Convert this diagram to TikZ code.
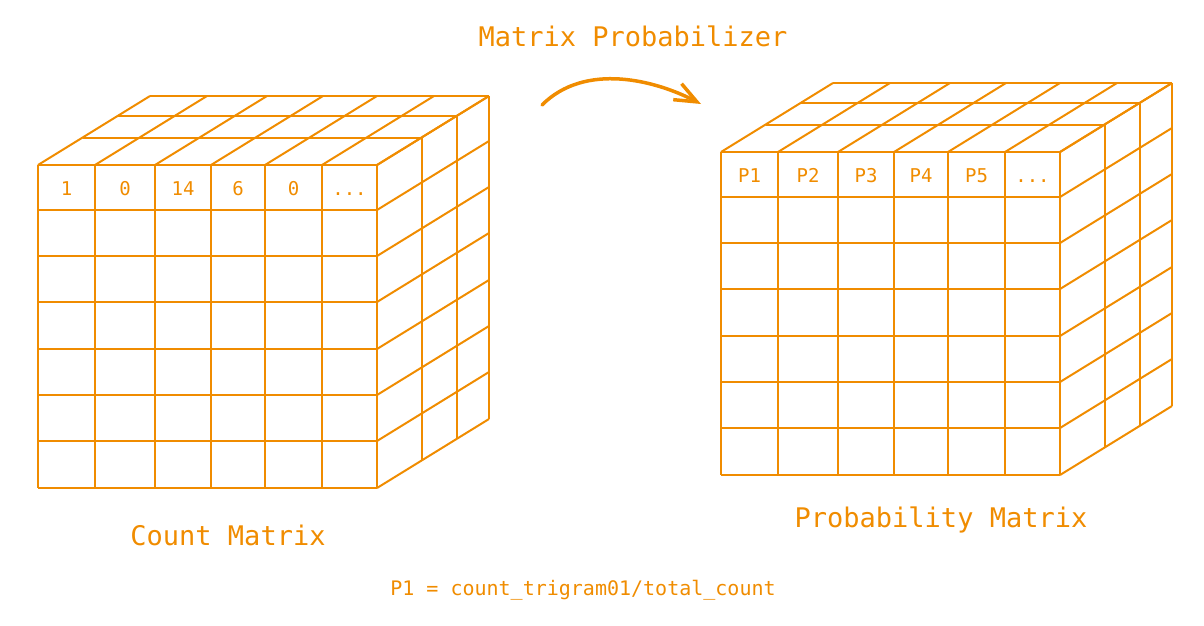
\documentclass[tikz,border=0pt]{standalone}
\usepackage{fontspec}
\setmonofont{DejaVu Sans Mono}
\usetikzlibrary{arrows.meta}
\definecolor{sketchorange}{HTML}{F08C00}
\newcommand{\celldots}{...}

\begin{document}
\begin{tikzpicture}[x=1pt, y=-1pt, line join=round,
    grid/.style={draw=sketchorange, line width=2pt},
    cell/.style={text=sketchorange, anchor=base, font=\ttfamily\fontsize{19}{21}\selectfont},
    caption/.style={text=sketchorange, font=\ttfamily\fontsize{27}{30}\selectfont},
    flow/.style={draw=sketchorange, line width=3.5pt, line cap=round, -{Straight Barb[length=22pt, width=18pt]}}]
\useasboundingbox (0,0) rectangle (1204,626);
\foreach \cx/\cy in {38/165, 721/152}{
    \begin{scope}[shift={(\cx,\cy)}]
        \foreach \x in {0,57,117,173,227,284,339}{
            \draw[grid] (\x,0) -- (\x,323);
            \draw[grid] (\x,0) -- (\x+112,-69);
        }
        \foreach \y in {0,45,91,137,184,230,276,323}{
            \draw[grid] (0,\y) -- (339,\y);
            \draw[grid] (339,\y) -- (451,\y-69);
        }
        \foreach \dx/\dy in {45/-27, 80/-49, 112/-69}{
            \draw[grid] (\dx,\dy) -- (339+\dx,\dy);
            \draw[grid] (339+\dx,\dy) -- (339+\dx,323+\dy);
        }
    \end{scope}
}
\foreach \lbl/\x [count=\i] in {1/28.5, 0/87, 14/145, 6/200, 0/255.5, \celldots/311.5}
    \node[cell] (cnt-\i) at (38+\x,195) {\lbl};
\foreach \lbl/\x [count=\i] in {P1/28.5, P2/87, P3/145, P4/200, P5/255.5, \celldots/311.5}
    \node[cell] (prob-\i) at (721+\x,182) {\lbl};

\node[caption] (probabilizer) at (633,36) {Matrix Probabilizer};
\node[caption] (countlabel) at (228,535) {Count Matrix};
\node[caption] (problabel) at (941,520) {Probability Matrix};
\node[text=sketchorange, font=\ttfamily\fontsize{20}{22}\selectfont] (formula) at (583,590) {P1 = count\_trigram01/total\_count};

\coordinate (arrowstart) at (542,105);
\coordinate (arrowend) at (701,104);
\draw[flow] (arrowstart) .. controls (585,62) and (655,80) .. (arrowend);
\end{tikzpicture}
\end{document}
